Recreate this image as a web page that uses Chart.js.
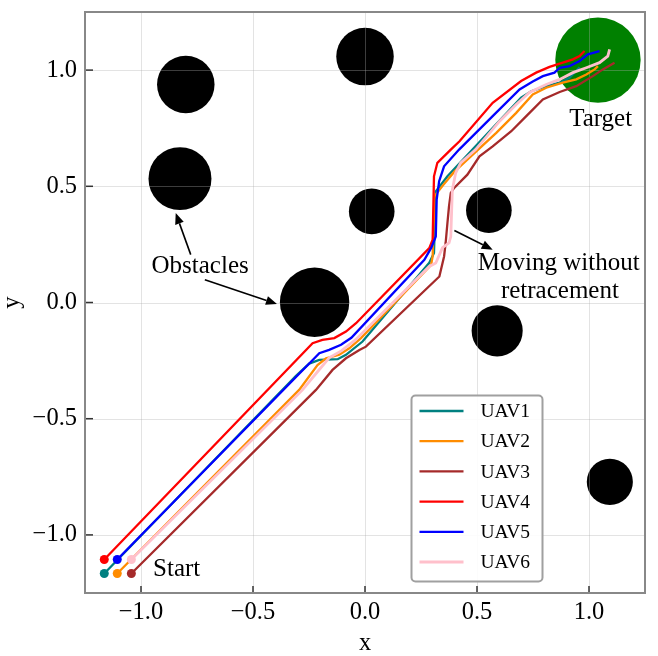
<!DOCTYPE html>
<html>
<head>
<meta charset="utf-8">
<script src="https://cdn.jsdelivr.net/npm/chart.js@4.4.1/dist/chart.umd.min.js"></script>
<style>
  body { margin: 0; background: #fff; }
  canvas { display: block; }
</style>
</head>
<body>
<canvas id="paths" width="658" height="656"></canvas>
<script>
// trajectories, [x, y] in data units
const uav1Path = [[-1.164,-1.166],[-0.308,-0.315],[-0.249,-0.263],[-0.204,-0.247],[-0.122,-0.244],[-0.085,-0.225],[-0.011,-0.168],[0.287,0.171],[0.308,0.213],[0.316,0.478],[0.368,0.543],[0.697,0.881],[0.742,0.909],[0.809,0.931],[0.869,0.946],[0.913,0.967],[0.958,1.012]];
const uav2Path = [[-1.106,-1.166],[-0.294,-0.376],[-0.212,-0.269],[-0.174,-0.240],[-0.115,-0.225],[-0.070,-0.197],[-0.018,-0.153],[0.295,0.162],[0.302,0.198],[0.310,0.457],[0.347,0.503],[0.399,0.563],[0.586,0.730],[0.675,0.816],[0.749,0.895],[0.809,0.924],[0.883,0.946],[0.943,0.960],[0.988,0.981],[1.025,1.003],[1.040,1.017]];
const uav3Path = [[-1.043,-1.166],[-0.219,-0.376],[-0.145,-0.290],[-0.085,-0.240],[-0.025,-0.204],[0.004,-0.190],[0.332,0.112],[0.353,0.198],[0.360,0.256],[0.368,0.342],[0.375,0.414],[0.383,0.472],[0.398,0.493],[0.457,0.550],[0.511,0.629],[0.570,0.672],[0.653,0.737],[0.720,0.802],[0.794,0.874],[0.869,0.906],[0.943,0.931],[1.017,0.974],[1.062,1.003],[1.114,1.032]];
const uav4Path = [[-1.164,-1.106],[-0.234,-0.175],[-0.190,-0.161],[-0.137,-0.153],[-0.085,-0.125],[-0.040,-0.089],[0.287,0.234],[0.302,0.270],[0.308,0.543],[0.323,0.601],[0.383,0.658],[0.422,0.694],[0.570,0.859],[0.697,0.953],[0.764,0.989],[0.824,1.014],[0.883,1.032],[0.928,1.046],[0.958,1.060],[0.980,1.082]];
const uav5Path = [[-1.106,-1.106],[-0.204,-0.218],[-0.160,-0.204],[-0.107,-0.182],[-0.061,-0.152],[0.265,0.184],[0.296,0.236],[0.316,0.284],[0.320,0.443],[0.331,0.522],[0.353,0.586],[0.420,0.658],[0.570,0.802],[0.690,0.917],[0.749,0.951],[0.794,0.974],[0.846,0.989],[0.869,1.010],[0.913,1.017],[0.958,1.039],[0.995,1.068],[1.047,1.082]];
const uav6Path = [[-1.043,-1.106],[-0.279,-0.376],[-0.213,-0.299],[-0.160,-0.238],[-0.106,-0.208],[-0.043,-0.161],[0.287,0.155],[0.316,0.170],[0.346,0.236],[0.375,0.256],[0.383,0.284],[0.390,0.486],[0.405,0.558],[0.427,0.601],[0.494,0.658],[0.600,0.779],[0.675,0.852],[0.734,0.904],[0.809,0.938],[0.869,0.960],[0.928,0.989],[0.988,1.010],[1.047,1.032],[1.084,1.060],[1.092,1.089]];

const uavNames = ["UAV1", "UAV2", "UAV3", "UAV4", "UAV5", "UAV6"];
const uavColors = ["#008080", "#ff8c00", "#a52a2a", "#ff0000", "#0000ff", "#ffc0cb"];

// obstacles: centre and radius in data units
const obstacleX = [-0.80, -0.826, -0.225, 0.0, 0.03, 0.553, 0.590, 1.093];
const obstacleY = [0.938, 0.533, 0.001, 1.058, 0.392, 0.397, -0.122, -0.772];
const obstacleR = [0.126, 0.138, 0.152, 0.126, 0.100, 0.100, 0.112, 0.101];
const targetX = [1.04];
const targetY = [1.043];
const targetR = [0.187];

const xTicks = [-1.0, -0.5, 0.0, 0.5, 1.0];
const yTicks = [-1.0, -0.5, 0.0, 0.5, 1.0];

const serif = "'Liberation Serif', 'Times New Roman', serif";

function fmt(v) {
  return (v < 0 ? "\u2212" : "") + Math.abs(v).toFixed(1);
}

// pixels per data unit, refreshed after every layout
let pxPerUnit = 228;

const paths = [uav1Path, uav2Path, uav3Path, uav4Path, uav5Path, uav6Path];
const lineSets = paths.map((p, i) => ({
  type: "scatter",
  label: uavNames[i],
  data: p.map(pt => ({ x: pt[0], y: pt[1] })),
  showLine: true,
  borderColor: uavColors[i],
  backgroundColor: uavColors[i],
  borderWidth: i === 5 ? 2.8 : 2.3,
  tension: 0,
  pointRadius: ctx => ctx.dataIndex === 0 ? 4.5 : 0,
  pointBorderWidth: 0,
  order: 6 - i
}));

const obstacleSet = {
  type: "scatter",
  label: "obstacles",
  data: obstacleX.map((x, i) => ({ x: x, y: obstacleY[i] })),
  showLine: false,
  pointBackgroundColor: "#000",
  pointBorderWidth: 0,
  clip: false,
  pointRadius: ctx => obstacleR[ctx.dataIndex] * pxPerUnit,
  order: 20
};
const targetSet = {
  type: "scatter",
  label: "target",
  data: targetX.map((x, i) => ({ x: x, y: targetY[i] })),
  showLine: false,
  pointBackgroundColor: "#008000",
  pointBorderWidth: 0,
  clip: false,
  pointRadius: ctx => targetR[ctx.dataIndex] * pxPerUnit,
  order: 19
};

// annotation text and arrows, data units
const notes = [
  { text: "Obstacles", x: -0.736, y: 0.154, align: "center" },
  { text: "Moving without", x: 0.865, y: 0.169, align: "center" },
  { text: "retracement", x: 0.870, y: 0.047, align: "center" },
  { text: "Target", x: 1.052, y: 0.787, align: "center" },
  { text: "Start", x: -0.946, y: -1.149, align: "left" }
];
const arrows = [
  [-0.778, 0.206, -0.845, 0.385],
  [-0.715, 0.098, -0.393, -0.006],
  [0.399, 0.310, 0.570, 0.227]
];

function drawArrow(ctx, x1, y1, x2, y2) {
  const a = Math.atan2(y2 - y1, x2 - x1);
  const hl = 11, hw = 4.5;
  const bx = x2 - hl * Math.cos(a), by = y2 - hl * Math.sin(a);
  ctx.beginPath();
  ctx.moveTo(x1, y1);
  ctx.lineTo(bx, by);
  ctx.stroke();
  ctx.beginPath();
  ctx.moveTo(x2, y2);
  ctx.lineTo(bx + hw * Math.sin(a), by - hw * Math.cos(a));
  ctx.lineTo(bx - hw * Math.sin(a), by + hw * Math.cos(a));
  ctx.closePath();
  ctx.fill();
}

const decor = {
  id: "decor",
  afterLayout(chart) {
    const xs = chart.scales.x, ys = chart.scales.y;
    const kx = Math.abs(xs.getPixelForValue(1) - xs.getPixelForValue(0));
    const ky = Math.abs(ys.getPixelForValue(1) - ys.getPixelForValue(0));
    if (isFinite(kx + ky) && kx + ky > 0) pxPerUnit = (kx + ky) / 2;
  },
  afterDatasetDraw(chart, args) {
    // grid goes over the discs but under the paths
    if (args.index !== 1) return;
    const { ctx, chartArea: ca, scales } = chart;
    ctx.save();
    ctx.strokeStyle = "rgba(176,176,176,0.35)";
    ctx.lineWidth = 1;
    xTicks.forEach(v => {
      const px = Math.round(scales.x.getPixelForValue(v)) + 0.5;
      ctx.beginPath(); ctx.moveTo(px, ca.top); ctx.lineTo(px, ca.bottom); ctx.stroke();
    });
    yTicks.forEach(v => {
      const py = Math.round(scales.y.getPixelForValue(v)) + 0.5;
      ctx.beginPath(); ctx.moveTo(ca.left, py); ctx.lineTo(ca.right, py); ctx.stroke();
    });
    ctx.restore();
  },
  afterDatasetsDraw(chart) {
    const { ctx, chartArea: ca, scales } = chart;
    ctx.save();

    // inward ticks
    ctx.strokeStyle = "#333";
    ctx.lineWidth = 1.5;
    xTicks.forEach(v => {
      const px = scales.x.getPixelForValue(v);
      ctx.beginPath(); ctx.moveTo(px, ca.bottom); ctx.lineTo(px, ca.bottom - 7); ctx.stroke();
    });
    yTicks.forEach(v => {
      const py = scales.y.getPixelForValue(v);
      ctx.beginPath(); ctx.moveTo(ca.left, py); ctx.lineTo(ca.left + 8, py); ctx.stroke();
    });

    // frame
    ctx.strokeStyle = "#888";
    ctx.lineWidth = 2;
    ctx.strokeRect(ca.left, ca.top, ca.right - ca.left, ca.bottom - ca.top);

    // annotations
    ctx.fillStyle = "#000";
    ctx.strokeStyle = "#000";
    ctx.lineWidth = 1.6;
    ctx.font = "25px " + serif;
    ctx.textBaseline = "middle";
    notes.forEach(n => {
      ctx.textAlign = n.align;
      ctx.fillText(n.text, scales.x.getPixelForValue(n.x), scales.y.getPixelForValue(n.y));
    });
    arrows.forEach(a => {
      drawArrow(ctx,
        scales.x.getPixelForValue(a[0]), scales.y.getPixelForValue(a[1]),
        scales.x.getPixelForValue(a[2]), scales.y.getPixelForValue(a[3]));
    });

    // legend box
    const lx = ca.left + 326.5, ly = ca.top + 383.5, lw = 131, lh = 186;
    ctx.fillStyle = "rgba(255,255,255,0.9)";
    ctx.strokeStyle = "#a0a0a0";
    ctx.lineWidth = 2;
    ctx.beginPath();
    ctx.roundRect(lx, ly, lw, lh, 4);
    ctx.fill();
    ctx.stroke();
    ctx.font = "19.5px " + serif;
    ctx.textAlign = "left";
    ctx.textBaseline = "middle";
    uavNames.forEach((name, i) => {
      const ry = ly + 15.5 + i * 30.2;
      ctx.strokeStyle = uavColors[i];
      ctx.lineWidth = i === 5 ? 2.8 : 2.3;
      ctx.beginPath(); ctx.moveTo(lx + 8, ry); ctx.lineTo(lx + 52, ry); ctx.stroke();
      ctx.fillStyle = "#000";
      ctx.fillText(name, lx + 69, ry + 1);
    });
    ctx.restore();
  }
};

const chart = new Chart(document.getElementById("paths"), {
  data: { datasets: [obstacleSet, targetSet].concat(lineSets) },
  options: {
    responsive: false,
    animation: false,
    events: [],
    layout: { autoPadding: false, padding: { top: 12, right: 13, left: 0, bottom: 0 } },
    plugins: { legend: { display: false }, tooltip: { enabled: false } },
    scales: {
      x: {
        type: "linear",
        min: -1.25,
        max: 1.25,
        afterBuildTicks: s => { s.ticks = xTicks.map(v => ({ value: v })); },
        afterFit: s => { s.height = 63; s.paddingLeft = 0; s.paddingRight = 0; },
        grid: { display: false, drawTicks: false },
        border: { display: false },
        ticks: {
          padding: 5,
          color: "#000",
          font: { family: serif, size: 24.5 },
          maxRotation: 0,
          callback: v => fmt(v)
        },
        title: {
          display: true,
          text: "x",
          color: "#000",
          padding: 0,
          font: { family: serif, size: 24.5, lineHeight: 1 }
        }
      },
      y: {
        type: "linear",
        min: -1.25,
        max: 1.25,
        afterBuildTicks: s => { s.ticks = yTicks.map(v => ({ value: v })); },
        afterFit: s => { s.width = 85; s.paddingTop = 0; s.paddingBottom = 0; },
        grid: { display: false, drawTicks: false },
        border: { display: false },
        ticks: {
          padding: 8,
          color: "#000",
          font: { family: serif, size: 24.5 },
          callback: v => fmt(v)
        },
        title: {
          display: true,
          text: "y",
          color: "#000",
          padding: 0,
          font: { family: serif, size: 24.5, lineHeight: 1 }
        }
      }
    }
  },
  plugins: [decor]
});
chart.update();
</script>
</body>
</html>
